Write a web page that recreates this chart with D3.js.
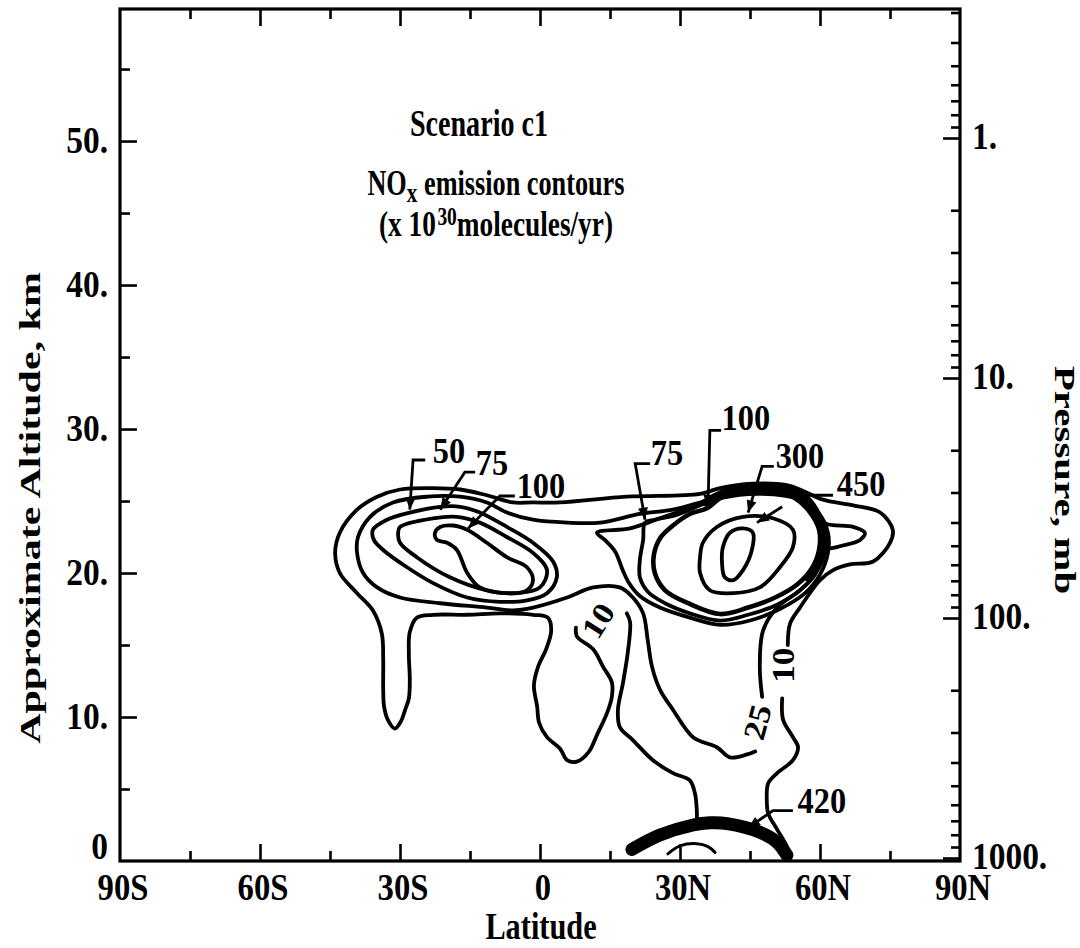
<!DOCTYPE html>
<html><head><meta charset="utf-8">
<script src="https://cdn.jsdelivr.net/npm/d3@7"></script>
<style>
html,body{margin:0;padding:0;background:#fff;}
svg{display:block;}
text{font-family:"Liberation Serif","Times New Roman",serif;font-weight:bold;fill:#000;}
</style></head><body>
<svg id="chart" width="1080" height="948"></svg>
<script>
// ---- axis tick values and labels ----
const latMajor = [-90, -60, -30, 0, 30, 60, 90];
const latLabels = ["90S", "60S", "30S", "0", "30N", "60N", "90N"];
const latMinor = [-75, -45, -15, 15, 45, 75];
const altMajor = [0, 10, 20, 30, 40, 50];
const altLabels = ["0", "10.", "20.", "30.", "40.", "50."];
const altMinor = [5, 15, 25, 35, 45, 55];
const presMajor = [1, 10, 100, 1000];
const presLabels = ["1.", "10.", "100.", "1000."];

// ---- contour lines, points are [latitude deg, altitude km] ----
// 10 contour: stem on the left of the surface source up to the tongue
const contour10a = [[33.6,2.4],[33.6,3.5],[33.2,4.7],[32.1,5.6],[28.5,6.1],[24.2,7.0],[19.9,8.4],[17.1,9.3],[16.7,10.5],[17.8,12.4],[18.9,14.7],[19.3,16.6],[18.6,17.2]];
// 10 contour: tongue, southern drip, southern cell, top and northern lobe
const contour10b = [[7.7,16.2],[7.9,15.6],[11.4,14.7],[13.5,13.5],[15.4,12.4],[15.4,11.4],[14.4,10.3],[12.2,8.75],[10.5,7.6],[7.9,6.9],[5.8,7.0],[4.3,7.8],[1.5,8.6],[-0.2,9.6],[-0.6,10.7],[-1.3,12.2],[-0.4,13.5],[1.3,14.7],[2.4,16.0],[1.7,16.9],[-1.5,17.1],[-8.6,17.2],[-15.6,17.1],[-22.9,17.1],[-26.4,16.9],[-27.9,15.9],[-28.1,14.3],[-27.9,12.6],[-28.1,11.3],[-28.9,10.5],[-29.8,9.7],[-31.1,9.2],[-32.6,9.8],[-33.4,10.7],[-33.6,11.9],[-33.6,14.0],[-33.9,15.8],[-35.8,17.4],[-39.2,18.6],[-42.9,20.0],[-43.9,21.4],[-42.9,22.8],[-39.2,24.4],[-34.9,25.3],[-30.0,25.8],[-22.9,25.9],[-17.1,25.8],[-11.4,25.4],[-5.8,24.9],[-1.5,24.9],[4.3,24.9],[18.6,25.3],[34.3,25.5],[38.6,25.9],[45.6,26.2],[52.9,26.1],[56.4,25.7],[60.6,25.1],[67.1,24.7],[72.9,24.2],[75.6,23.0],[75.0,22.1],[71.4,20.8],[66.4,20.6],[62.8,20.2],[60.0,19.5],[55.7,17.6],[53.6,16.5],[53.1,15.0]];
// 10 contour: right side of the stem down to the surface
const contour10c = [[51.9,11.3],[52.1,9.8],[54.2,8.6],[55.3,7.9],[54.2,7.0],[50.8,6.1],[48.9,5.4],[48.6,4.2],[48.9,3.3],[50.8,2.2],[52.9,1.0],[53.6,0.3]];
// 25 contour
const contour25 = [[47.6,11.4],[47.1,13.5],[47.8,16.0],[50.8,17.6],[55.7,18.8],[58.9,19.9],[60.6,21.5],[63.6,21.8],[68.6,22.3],[69.6,22.8],[67.1,23.2],[60.6,23.5],[56.4,25.1],[52.9,25.6],[45.6,25.8],[40.1,25.5],[34.3,24.9],[28.5,24.4],[21.4,24.1],[12.9,23.5],[5.8,23.5],[-1.5,23.7],[-7.1,24.2],[-11.4,24.9],[-17.1,25.3],[-24.2,25.3],[-31.5,24.9],[-36.4,23.9],[-39.0,22.5],[-39.2,21.4],[-37.9,20.0],[-34.9,19.0],[-30.0,18.3],[-21.4,17.9],[-11.4,17.6],[-5.8,17.4],[-1.5,17.6],[5.8,18.3],[11.4,19.0],[17.1,19.0],[19.9,18.3],[22.1,17.2],[23.1,15.3],[24.0,13.5],[25.7,11.9],[28.5,10.5],[32.8,8.6],[37.9,7.9],[40.7,7.2],[44.4,7.4],[46.1,7.6]];
// southern cell, closed loops
const south50 = [[-35.8,23.0],[-32.8,23.7],[-27.9,24.2],[-21.4,24.6],[-17.1,24.6],[-12.9,24.2],[-7.1,23.2],[-1.5,22.1],[2.8,20.8],[3.6,19.7],[1.5,18.6],[-2.8,18.1],[-8.6,18.0],[-15.6,18.3],[-22.9,19.3],[-28.5,20.4],[-33.6,21.6],[-35.6,22.3]];
const south75 = [[-30.4,22.8],[-30.0,23.2],[-22.9,23.8],[-17.8,23.9],[-12.9,23.5],[-7.1,22.5],[-1.5,21.4],[1.5,20.2],[0.0,19.0],[-4.9,18.6],[-11.4,18.8],[-19.3,19.7],[-26.4,21.1],[-30.0,22.1]];
const south100 = [[-22.5,22.8],[-21.4,23.2],[-18.6,23.3],[-15.6,23.0],[-11.4,22.1],[-7.1,21.1],[-2.8,20.4],[-1.5,19.5],[-2.8,18.8],[-7.1,18.6],[-12.9,19.0],[-15.6,20.0],[-17.8,21.6],[-19.9,22.1],[-22.1,22.3]];
// northern cell, closed loops
const north50 = [[12.2,22.8],[13.9,22.3],[16.1,21.5],[17.6,20.3],[18.9,19.4],[21.4,18.4],[25.7,17.6],[32.1,16.9],[38.6,16.4],[45.0,16.7],[51.4,17.5],[56.8,18.6],[60.0,19.9],[61.7,21.4],[61.7,22.8],[59.6,24.2],[55.7,25.1],[47.1,25.5],[38.6,25.2],[32.1,24.5],[25.7,23.8],[19.3,23.1]];
const north75 = [[22.5,23.5],[22.1,22.3],[21.4,20.9],[21.4,19.7],[23.1,18.7],[26.8,17.9],[32.1,17.2],[38.6,16.7],[44.6,17.1],[50.8,17.8],[55.7,18.8],[58.9,19.9],[60.9,21.3],[60.9,22.8],[58.9,24.0],[55.7,25.1],[51.4,25.6],[45.0,25.7],[39.0,25.3],[34.3,24.7],[28.9,24.0],[24.6,23.7]];
const north100 = [[35.8,24.5],[32.1,24.1],[28.5,23.3],[25.7,22.4],[24.4,21.25],[24.6,20.0],[26.8,18.8],[32.1,17.85],[38.6,17.15],[44.6,17.6],[50.4,18.3],[55.1,19.2],[58.3,20.35],[59.8,21.6],[59.8,23.0],[57.9,24.2],[54.6,25.2],[49.3,25.8],[42.9,25.7],[38.6,25.2]];
const north300 = [[34.9,22.1],[37.9,23.2],[43.5,23.9],[49.9,23.8],[54.2,23.0],[54.2,21.8],[51.4,20.4],[47.1,19.0],[41.4,18.6],[36.4,18.8],[34.3,20.0],[34.3,21.1]];
const north450 = [[39.2,21.8],[40.7,22.8],[43.5,23.1],[45.6,22.8],[45.4,21.6],[43.5,20.2],[41.4,19.5],[39.6,19.7],[39.0,20.7]];
// heavy line over the top of the northern cell
const corridor450 = [[35.4,24.9],[39.6,25.6],[45.6,26.0],[52.5,25.9],[56.4,25.35],[58.9,24.4],[60.4,23.1],[60.6,21.7],[59.6,20.6],[57.4,19.65]];
// surface source near the ground
const surface420 = [[19.7,0.8],[25.7,1.8],[32.8,2.5],[36.4,2.65],[40.1,2.6],[47.1,2.0],[50.8,1.3],[52.9,0.4]];
const surfaceHook = [[27.4,0.5],[30.0,1.05],[33.6,1.2],[36.0,1.0],[37.5,0.6]];

// contour value labels: [text, latitude, altitude]
const valueLabels = [["50",-19.5,28.5],["75",-10.3,27.7],["100",0.2,26.1],["75",27.2,28.4],["100",44.1,30.8],["300",55.7,28.2],["450",68.8,26.2],["420",60.4,4.2]];
const inlineLabels = [["10",12.4,16.7],["25",46.5,9.65],["10",52.1,13.6]];
const inlineAngles = [-58, -75, -90];
// leader lines from the value labels to their contours
const leaders = [
  [[-24.6,27.85],[-27.2,27.85],[-27.9,24.4]],
  [[-13.9,27.0],[-16.1,27.0],[-21.4,24.4]],
  [[-5.4,25.35],[-8.6,25.35],[-15.4,23.1]],
  [[23.6,27.6],[20.4,27.6],[22.5,23.7]],
  [[38.8,29.9],[36.4,29.9],[36.0,24.6]],
  [[50.1,27.4],[47.6,27.4],[44.6,24.2]],
  [[51.9,24.6],[46.5,23.5]],
  [[54.2,3.5],[49.9,3.5],[44.6,2.3]]
];
const plainLeaders = [[[62.8,25.4],[55.7,25.4]]];

// ---- scales ----
const svg = d3.select("#chart");
const x = d3.scaleLinear().domain([-90, 90]).range([120, 960]);
const y = d3.scaleLinear().domain([0, 59.17]).range([861, 9]);
const p = d3.scaleLog().domain([1000, 1]).range([858, 138]);

const line = d3.line().x(d => x(d[0])).y(d => y(d[1])).curve(d3.curveCatmullRom.alpha(0.5));
const loop = d3.line().x(d => x(d[0])).y(d => y(d[1])).curve(d3.curveCatmullRomClosed.alpha(0.5));
const straight = d3.line().x(d => x(d[0])).y(d => y(d[1]));

function txt(parent, s, px, py, o = {}) {
  const t = parent.append("text")
    .attr("transform", `translate(${px},${py}) rotate(${o.rot || 0}) scale(${o.sx || 1},${o.sy || 1})`)
    .attr("text-anchor", o.anchor || "start")
    .attr("font-size", o.size || 38);
  if (o.dy) t.attr("dy", o.dy);
  t.text(s);
  return t;
}

// a centred line built from separate pieces (for sub/superscripts)
function richLine(parent, pieces, cx, baseline, sx) {
  const g = parent.append("g");
  let cur = 0;
  pieces.forEach(pc => {
    cur += pc.gap || 0;
    const t = g.append("text").attr("x", cur).attr("y", pc.shift || 0)
      .attr("font-size", pc.size).text(pc.s);
    cur += t.node().getComputedTextLength();
  });
  g.attr("transform", `translate(${cx - cur * sx / 2},${baseline}) scale(${sx},1)`);
}

// ---- axes ticks (inward) ----
const axes = svg.append("g");
function styleAxis(g) { g.select(".domain").remove(); g.selectAll("line").attr("stroke", "#000").attr("stroke-width", 2.6); }
axes.append("g").attr("transform", "translate(0,861)")
  .call(d3.axisBottom(x).tickValues(latMajor.slice(1, -1)).tickSize(-17).tickFormat("")).call(styleAxis);
axes.append("g").attr("transform", "translate(0,861)")
  .call(d3.axisBottom(x).tickValues(latMinor).tickSize(-10).tickFormat("")).call(styleAxis);
axes.append("g").attr("transform", "translate(0,9)")
  .call(d3.axisTop(x).tickValues(latMajor.slice(1, -1)).tickSize(-17).tickFormat("")).call(styleAxis);
axes.append("g").attr("transform", "translate(0,9)")
  .call(d3.axisTop(x).tickValues(latMinor).tickSize(-10).tickFormat("")).call(styleAxis);
axes.append("g").attr("transform", "translate(120,0)")
  .call(d3.axisLeft(y).tickValues(altMajor.slice(1)).tickSize(-17).tickFormat("")).call(styleAxis);
axes.append("g").attr("transform", "translate(120,0)")
  .call(d3.axisLeft(y).tickValues(altMinor).tickSize(-10).tickFormat("")).call(styleAxis);
const presMinor = [];
[0.1, 1, 10, 100].forEach(dec => { for (let k = 2; k <= 9; k++) { const v = dec * k; if (p(v) > 10 && p(v) < 860) presMinor.push(v); } });
axes.append("g").attr("transform", "translate(960,0)")
  .call(d3.axisRight(p).tickValues(presMajor).tickSize(-17).tickFormat("")).call(styleAxis);
axes.append("g").attr("transform", "translate(960,0)")
  .call(d3.axisRight(p).tickValues(presMinor).tickSize(-9).tickFormat("")).call(styleAxis);

// frame
svg.append("rect").attr("x", 120).attr("y", 9).attr("width", 840).attr("height", 852)
  .attr("fill", "none").attr("stroke", "#000").attr("stroke-width", 3.2);

// ---- tick labels ----
const labels = svg.append("g");
latMajor.forEach((v, i) => txt(labels, latLabels[i], x(v) + 3, 900, { anchor: "middle", size: 38, sx: 0.86 }));
altMajor.forEach((v, i) => txt(labels, altLabels[i], 108, Math.min(y(v) + 12, 859), { anchor: "end", size: 38, sx: 0.88 }));
presMajor.forEach((v, i) => txt(labels, presLabels[i], 972, p(v) + 11, { size: 38, sx: 0.88 }));

// axis titles
txt(labels, "Latitude", 541, 939, { anchor: "middle", size: 37, sx: 0.82 });
txt(labels, "Approximate Altitude, km", 40, 508, { anchor: "middle", rot: -90, size: 42, sy: 0.7 });
txt(labels, "Pressure, mb", 1055, 480, { anchor: "middle", rot: 90, size: 41, sy: 0.7 });

// titles inside the plot
txt(labels, "Scenario c1", 479, 136, { anchor: "middle", size: 37, sx: 0.76 });
richLine(labels, [
  { s: "NO", size: 35 },
  { s: "x", size: 28, shift: 7 },
  { s: "emission contours", size: 35, gap: 9 }
], 496, 195, 0.75);
richLine(labels, [
  { s: "(x 10", size: 35 },
  { s: "30", size: 25, shift: -11, gap: 2 },
  { s: "molecules/yr)", size: 35 }
], 496, 236, 0.78);

// ---- contours ----
const cg = svg.append("g").attr("fill", "none").attr("stroke", "#000")
  .attr("stroke-linejoin", "round").attr("stroke-linecap", "round");
[contour10a, contour10b, contour10c, contour25].forEach(c => cg.append("path").attr("d", line(c)).attr("stroke-width", 3.8));
[south50, south75, south100, north50, north75, north300, north450].forEach(c => cg.append("path").attr("d", loop(c)).attr("stroke-width", 3.8));
cg.append("path").attr("d", loop(north100)).attr("stroke-width", 4.6);
cg.append("path").attr("d", line(corridor450)).attr("stroke-width", 7.5);
cg.append("path").attr("d", line(surface420)).attr("stroke-width", 13);
cg.append("path").attr("d", line(surfaceHook)).attr("stroke-width", 3);

// ---- leaders with arrow heads ----
const lg = svg.append("g");
function arrowHead(pts) {
  const a = pts[pts.length - 2], b = pts[pts.length - 1];
  const ax = x(a[0]), ay = y(a[1]), bx = x(b[0]), by = y(b[1]);
  const ang = Math.atan2(by - ay, bx - ax), L = 12, w = 5;
  const c = Math.cos(ang), s = Math.sin(ang);
  const p1 = [bx - L * c + w * s, by - L * s - w * c];
  const p2 = [bx - L * c - w * s, by - L * s + w * c];
  lg.append("path").attr("d", `M${bx},${by}L${p1[0]},${p1[1]}L${p2[0]},${p2[1]}Z`).attr("fill", "#000");
}
leaders.forEach(pts => {
  lg.append("path").attr("d", straight(pts)).attr("fill", "none").attr("stroke", "#000").attr("stroke-width", 2.8);
  arrowHead(pts);
});
plainLeaders.forEach(pts => lg.append("path").attr("d", straight(pts)).attr("fill", "none").attr("stroke", "#000").attr("stroke-width", 2.8));

// ---- contour value labels ----
valueLabels.forEach(([s, la, al]) => txt(labels, s, x(la), y(al), { anchor: "middle", size: 36, sx: 0.9, dy: "0.35em" }));
inlineLabels.forEach(([s, la, al], i) => txt(labels, s, x(la), y(al), { anchor: "middle", size: 35, rot: inlineAngles[i], sy: 0.88, dy: "0.35em" }));
</script>
</body></html>
